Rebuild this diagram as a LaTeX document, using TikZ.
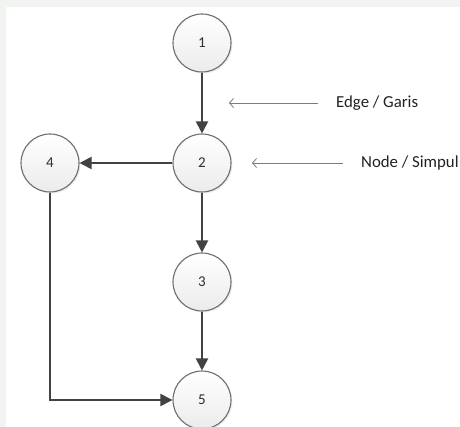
\documentclass[tikz,border=0pt]{standalone}
\usepackage{fontspec}
\setmainfont{Carlito}
\usetikzlibrary{arrows.meta,shadows}

\definecolor{nodefill}{HTML}{EBEBEB}
\definecolor{nodeline}{HTML}{6E6E6E}
\definecolor{numtext}{HTML}{2E2E2E}
\definecolor{flowline}{HTML}{424242}
\definecolor{labeltext}{HTML}{222222}
\definecolor{pointerline}{HTML}{7C7C7C}
\definecolor{paperedge}{HTML}{F2F4F1}

\begin{document}
\begin{tikzpicture}[x=1pt,y=-1pt,
  vertex/.style={circle, draw=nodeline, line width=1.1pt, minimum size=58pt,
    inner sep=0pt, top color=white, bottom color=nodefill,
    font=\fontsize{15}{15}\selectfont, text=numtext,
    drop shadow={opacity=0.12, shadow xshift=1.5pt, shadow yshift=-1.5pt}},
  flow/.style={draw=flowline, line width=2pt, -{Triangle[length=12pt,width=12pt]}},
  callout/.style={font=\fontsize{16.8}{16.8}\selectfont, text=labeltext,
    inner sep=0pt, anchor=west},
  pointer/.style={draw=pointerline, line width=0.8pt,
    -{Straight Barb[length=4pt,width=9pt]}}
]
% page and its faint edge bands
\useasboundingbox (0,0) rectangle (460,427);
\fill[white] (0,0) rectangle (460,427);
\fill[paperedge] (0,0) rectangle (460,7);
\fill[paperedge] (0,0) rectangle (6,427);

% vertices
\node[vertex] (n1) at (202,43)  {1};
\node[vertex] (n2) at (202,163) {2};
\node[vertex] (n4) at (50,163)  {4};
\node[vertex] (n3) at (202,282) {3};
\node[vertex] (n5) at (202,400) {5};

% edges
\draw[flow] (n1) -- (n2);
\draw[flow] (n2) -- (n4);
\draw[flow] (n2) -- (n3);
\draw[flow] (n3) -- (n5);
\draw[flow] (n4.south) |- (n5.west);

% callouts
\node[callout] (edgelabel) at (336,103) {Edge / Garis};
\node[callout] (nodelabel) at (361,163) {Node / Simpul};
\coordinate (edgetip) at (229,103);
\coordinate (nodetip) at (252,163);
\draw[pointer, shorten <=18pt] (edgelabel.west) -- (edgetip);
\draw[pointer, shorten <=18pt] (nodelabel.west) -- (nodetip);
\end{tikzpicture}
\end{document}
